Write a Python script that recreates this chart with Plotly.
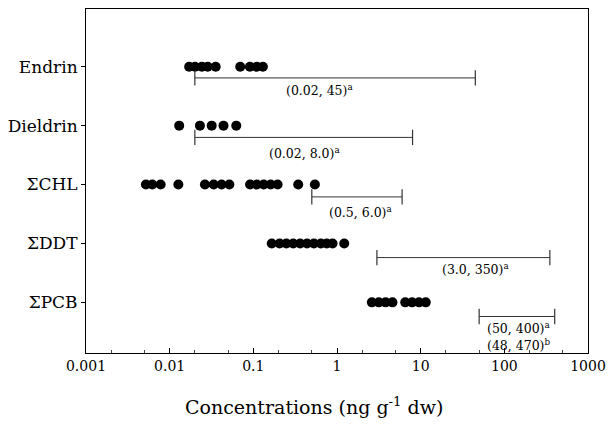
import plotly.graph_objects as go
import math

categories = ["Endrin", "Dieldrin", "ΣCHL", "ΣDDT", "ΣPCB"]
cat_pos = [5, 4, 3, 2, 1]

endrin = [0.0171, 0.0201, 0.0243, 0.0285, 0.0355, 0.0697, 0.091, 0.110, 0.130]
dieldrin = [0.013, 0.023, 0.0318, 0.044, 0.0625]
chl = [0.0052, 0.0062, 0.0078, 0.0127, 0.0264, 0.0336, 0.0417, 0.0517,
       0.0914, 0.110, 0.133, 0.161, 0.195, 0.344, 0.544]
ddt = [0.166, 0.206, 0.248, 0.30, 0.363, 0.438, 0.53, 0.64, 0.753, 0.885, 1.22]
pcb = [2.61, 3.16, 3.81, 4.6, 6.54, 7.9, 9.56, 11.5]
series = [endrin, dieldrin, chl, ddt, pcb]

# reference ranges (low, high)
ranges_a = [(0.02, 45), (0.02, 8.0), (0.5, 6.0), (3.0, 350), (50, 400)]
range_labels = ["(0.02, 45)<sup>a</sup>", "(0.02, 8.0)<sup>a</sup>",
                "(0.5, 6.0)<sup>a</sup>", "(3.0, 350)<sup>a</sup>",
                "(50, 400)<sup>a</sup>"]
extra_label = "(48, 470)<sup>b</sup>"

x_tickvals = [0.001, 0.01, 0.1, 1, 10, 100, 1000]
x_ticktext = ["0.001", "0.01", "0.1", "1", "10", "100", "1000"]

FONT = "DejaVu Serif"

fig = go.Figure()

for vals, y in zip(series, cat_pos):
    fig.add_trace(go.Scatter(
        x=vals, y=[y] * len(vals), mode="markers",
        marker=dict(color="black", size=10, line=dict(width=0)),
        showlegend=False, hoverinfo="skip"))

range_offsets = [0.19, 0.2, 0.21, 0.24, 0.24]
label_offsets = [0.39, 0.46, 0.47, 0.44, 0.44]
label_x = [0.62, 0.41, 1.9, 45, 147]

for (lo, hi), y, off in zip(ranges_a, cat_pos, range_offsets):
    yy = y - off
    fig.add_trace(go.Scatter(
        x=[lo, hi], y=[yy, yy], mode="lines+markers",
        line=dict(color="#333", width=1),
        marker=dict(symbol="line-ns", size=11, line=dict(width=1.2, color="#333")),
        showlegend=False, hoverinfo="skip"))

for txt, y, off, lx in zip(range_labels, cat_pos, label_offsets, label_x):
    fig.add_annotation(x=math.log10(lx), y=y - off, text=txt, showarrow=False,
                       font=dict(family=FONT, size=12.5, color="black"),
                       xanchor="center", yanchor="middle")
fig.add_annotation(x=math.log10(label_x[4]), y=cat_pos[4] - 0.73, text=extra_label,
                   showarrow=False, font=dict(family=FONT, size=12.5, color="black"),
                   xanchor="center", yanchor="middle")

# x-axis title as a paper annotation (slightly left of centre, like the reference)
fig.add_annotation(xref="paper", yref="paper", x=0.455, y=-0.155,
                   text="Concentrations (ng g<sup>-1</sup> dw)", showarrow=False,
                   font=dict(family=FONT, size=19, color="black"),
                   xanchor="center", yanchor="middle")

# page body has an 8px margin, so the figure is offset by (8, 8)
fig.update_layout(
    width=606, height=422,
    margin=dict(l=74, r=26, t=0, b=77),
    plot_bgcolor="white", paper_bgcolor="white",
    font=dict(family=FONT, color="black"),
    xaxis=dict(type="log", range=[-3, 3], tickvals=x_tickvals, ticktext=x_ticktext,
               ticks="inside", ticklen=5, tickcolor="black",
               minor=dict(ticks="inside", ticklen=3, tickcolor="#444", showgrid=False),
               showline=True, linecolor="black", linewidth=1, mirror=True,
               showgrid=False, zeroline=False, ticklabeloverflow="allow",
               tickfont=dict(family=FONT, size=14)),
    yaxis=dict(range=[0.14, 5.98], tickvals=cat_pos, ticktext=categories,
               ticks="outside", ticklen=4, tickcolor="black",
               showline=True, linecolor="black", linewidth=1, mirror=True,
               showgrid=False, zeroline=False,
               tickfont=dict(family=FONT, size=17)),
)

fig.write_html("out.html")
